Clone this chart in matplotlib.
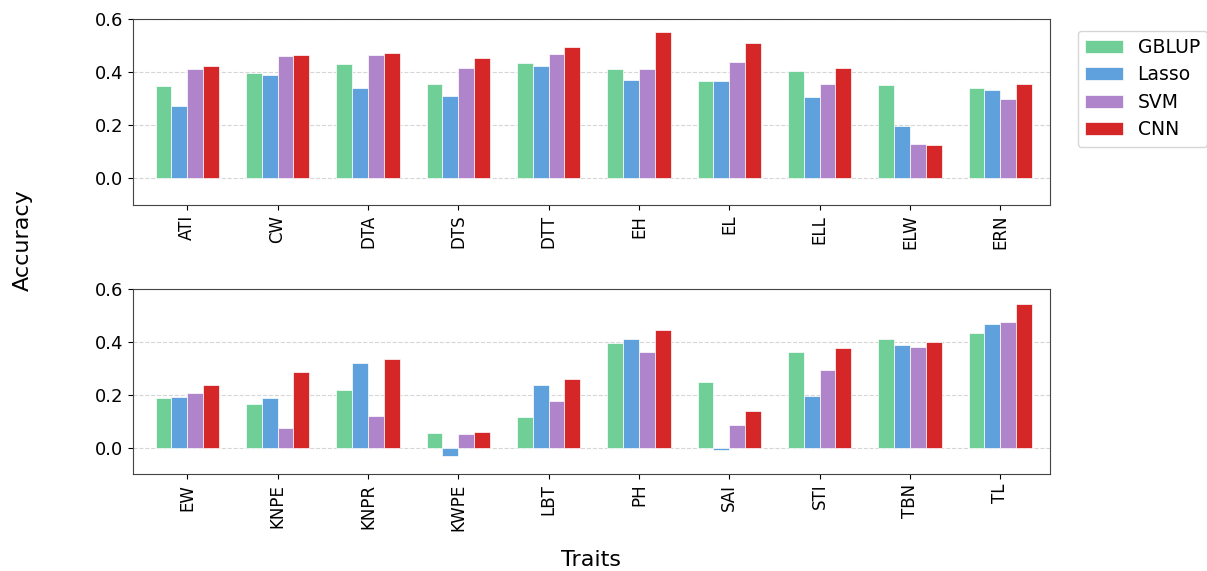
import numpy as np
import matplotlib
matplotlib.use("Agg")
import matplotlib.pyplot as plt

# Accuracy per trait and model
models = ["GBLUP", "Lasso", "SVM", "CNN"]
colors = ["#6fcf97", "#5fa1dd", "#af84ca", "#d62728"]

traits_top = ["ATI", "CW", "DTA", "DTS", "DTT", "EH", "EL", "ELL", "ELW", "ERN"]
gblup_top = [0.348, 0.398, 0.430, 0.354, 0.435, 0.413, 0.365, 0.404, 0.351, 0.341]
lasso_top = [0.273, 0.389, 0.340, 0.311, 0.424, 0.369, 0.368, 0.306, 0.196, 0.334]
svm_top = [0.410, 0.460, 0.463, 0.415, 0.470, 0.410, 0.440, 0.355, 0.129, 0.299]
cnn_top = [0.425, 0.466, 0.471, 0.454, 0.495, 0.551, 0.509, 0.415, 0.124, 0.354]

traits_bot = ["EW", "KNPE", "KNPR", "KWPE", "LBT", "PH", "SAI", "STI", "TBN", "TL"]
gblup_bot = [0.188, 0.163, 0.218, 0.053, 0.115, 0.394, 0.246, 0.363, 0.409, 0.434]
lasso_bot = [0.191, 0.188, 0.319, -0.031, 0.235, 0.409, -0.010, 0.195, 0.386, 0.468]
svm_bot = [0.208, 0.074, 0.119, 0.051, 0.176, 0.363, 0.085, 0.293, 0.380, 0.474]
cnn_bot = [0.238, 0.284, 0.335, 0.060, 0.258, 0.443, 0.138, 0.378, 0.398, 0.544]

fig = plt.figure(figsize=(12.07, 5.71), dpi=100)
ax1 = fig.add_axes([0.1102, 0.641, 0.7597, 0.3257])
ax2 = fig.add_axes([0.1102, 0.170, 0.7597, 0.324])

width = 0.175


def draw_panel(ax, traits, series):
    x = np.arange(len(traits))
    for i, (vals, name, c) in enumerate(zip(series, models, colors)):
        ax.bar(x + (i - 1.5) * width, vals, width, color=c, label=name,
               edgecolor="white", linewidth=0.5, zorder=3)
    ax.set_xticks(x)
    ax.set_xticklabels(traits, rotation=90, fontsize=12)
    ax.set_xlim(-0.6, len(traits) - 0.45)
    ax.set_ylim(-0.1, 0.6)
    ax.set_yticks([0.0, 0.2, 0.4, 0.6])
    ax.set_yticklabels(["0.0", "0.2", "0.4", "0.6"])
    ax.tick_params(axis="y", labelsize=13)
    ax.yaxis.grid(True, linestyle="--", color="#cccccc", linewidth=0.8, alpha=0.8, zorder=0)
    for s in ax.spines.values():
        s.set_color("#444444")


draw_panel(ax1, traits_top, [gblup_top, lasso_top, svm_top, cnn_top])
draw_panel(ax2, traits_bot, [gblup_bot, lasso_bot, svm_bot, cnn_bot])

handles, labels = ax1.get_legend_handles_labels()
fig.legend(handles, labels, loc="upper left", bbox_to_anchor=(0.885, 0.963),
           fontsize=13.5, frameon=True, handlelength=2.0, handleheight=0.7,
           labelspacing=0.45)

fig.text(0.019, 0.58, "Accuracy", rotation=90, fontsize=16, va="center", ha="center")
fig.text(0.49, 0.02, "Traits", fontsize=16, ha="center", va="center")

fig.savefig("out.png", dpi=100)
